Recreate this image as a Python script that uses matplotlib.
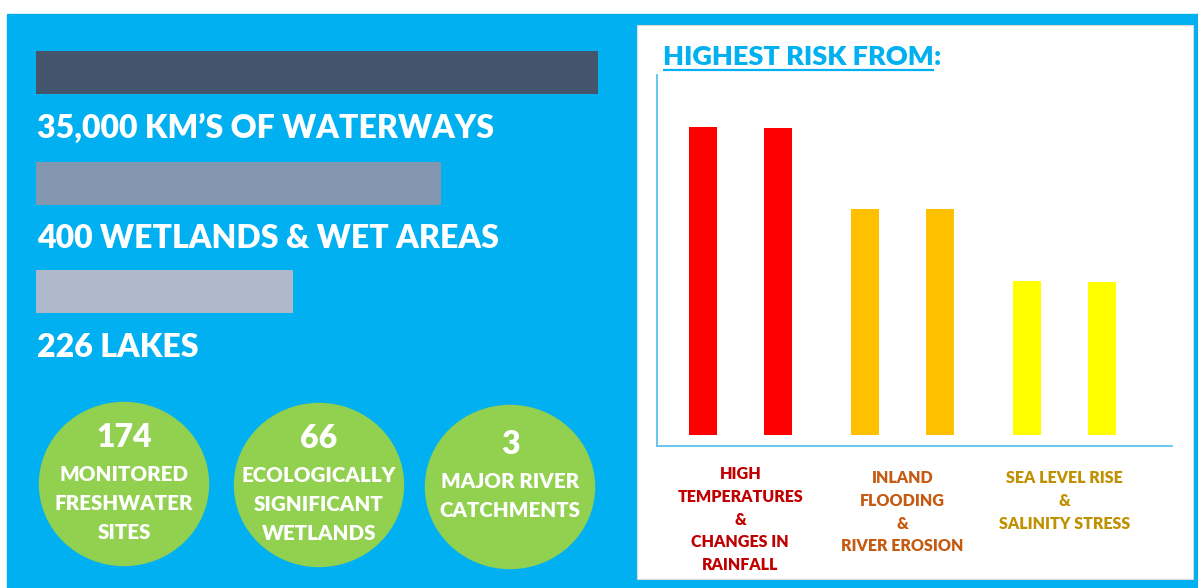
#!/usr/bin/env python3
"""
Freshwater summary panel: headline totals, site counts and the
risk bar chart on the right.
"""

import numpy as np
import matplotlib.pyplot as plt
from matplotlib import font_manager
from matplotlib.patches import Rectangle, Ellipse
from matplotlib.transforms import blended_transform_factory


plt.rcParams["font.family"] = ["Lato", "DejaVu Sans"]
plt.rcParams["font.weight"] = "heavy"

OUTPUT_PNG = "out.png"

# Headline totals (left column)
TOTAL_LABELS = [
    "35,000 KM’S OF WATERWAYS",
    "400 WETLANDS & WET AREAS",
    "226 LAKES",
]
TOTAL_BAR_LENGTHS = [1.0, 0.72, 0.457]
TOTAL_COLORS = ["#44546A", "#8497B0", "#ADB9CA"]

# Site counts (green circles)
CIRCLE_VALUES = ["174", "66", "3"]
CIRCLE_LABELS = [
    ["MONITORED", "FRESHWATER", "SITES"],
    ["ECOLOGICALLY", "SIGNIFICANT", "WETLANDS"],
    ["MAJOR RIVER", "CATCHMENTS"],
]

# Risk chart (right panel)
RISK_CATEGORIES = [
    ["HIGH", "TEMPERATURES", "&", "CHANGES IN", "RAINFALL"],
    ["INLAND", "FLOODING", "&", "RIVER EROSION"],
    ["SEA LEVEL RISE", "&", "SALINITY STRESS"],
]
RISK_SERIES_A = [4.00, 2.94, 2.00]
RISK_SERIES_B = [3.99, 2.94, 1.99]
RISK_BAR_COLORS = ["#FF0000", "#FFC000", "#FFFF00"]
RISK_LABEL_COLORS = ["#C00000", "#C55A11", "#BF9000"]

BLUE = "#00B0F0"
GREEN = "#92D050"
AXIS_BLUE = "#5BC3EE"

FIG_W, FIG_H = 1198, 588

# condensed face for the circle captions, if the system has one
_installed = {f.name for f in font_manager.fontManager.ttflist}
if "Liberation Sans Narrow" in _installed:
    CAPTION_FONT = {"family": "Liberation Sans Narrow", "weight": "bold",
                    "size": 16.5}
else:
    CAPTION_FONT = {"family": "Lato", "weight": "heavy", "size": 14.8}


def px_axes(fig, x0, y0, x1, y1):
    """Axes placed by pixel box (top-left origin)."""
    return fig.add_axes([
        x0 / FIG_W,
        1 - y1 / FIG_H,
        (x1 - x0) / FIG_W,
        (y1 - y0) / FIG_H,
    ])


def draw_left_column(bg):
    bar_left, bar_span, bar_h = 36, 562, 43
    row_centers = [72.5, 183.5, 291]
    text_baselines = [138, 248, 357]

    bg.barh(
        row_centers,
        [v * bar_span for v in TOTAL_BAR_LENGTHS],
        left=bar_left,
        height=bar_h,
        color=TOTAL_COLORS,
        zorder=2,
    )

    for label, y in zip(TOTAL_LABELS, text_baselines):
        bg.text(37, y, label, color="white", fontsize=23,
                ha="left", va="baseline", zorder=3)

    centers = [(124, 484), (319, 485), (510, 487)]
    for (cx, cy), value, lines in zip(centers, CIRCLE_VALUES, CIRCLE_LABELS):
        bg.add_patch(Ellipse((cx, cy), 169, 163, color=GREEN, zorder=2))
        num_y = cy - 37 + 4 * (3 - len(lines))
        bg.text(cx, num_y, value, color="white", fontsize=23,
                ha="center", va="baseline", zorder=3)
        for i, line in enumerate(lines):
            bg.text(cx, num_y + 34 + 29 * i, line, color="white",
                    fontdict=CAPTION_FONT, ha="center", va="baseline",
                    zorder=3)


def draw_title(fig, bg):
    title = bg.text(663, 65, "HIGHEST RISK FROM", color=BLUE, fontsize=19.5,
                    ha="left", va="baseline", zorder=3)
    fig.canvas.draw()
    bb = title.get_window_extent()
    (x0, _), (x1, _) = bg.transData.inverted().transform(
        [[bb.x0, bb.y0], [bb.x1, bb.y1]]
    )
    bg.text(x1, 65, ":", color=BLUE, fontsize=19.5,
            ha="left", va="baseline", zorder=3)
    bg.plot([x0, x1], [70, 70], color=BLUE, linewidth=1.6,
            solid_capstyle="butt", zorder=3)


def draw_risk_chart(fig, bg):
    ax = px_axes(fig, 657, 75, 1172, 446)
    ax.set_facecolor("none")

    x = np.arange(len(RISK_CATEGORIES))
    offset, width = 0.23, 0.173

    ax.bar(x - offset, RISK_SERIES_A, width, color=RISK_BAR_COLORS)
    ax.bar(x + offset, RISK_SERIES_B, width, color=RISK_BAR_COLORS)

    ax.set_xlim(-0.514, 2.665)
    ax.set_ylim(-0.143, 4.675)

    for side in ["top", "right"]:
        ax.spines[side].set_visible(False)
    for side in ["left", "bottom"]:
        ax.spines[side].set_color(AXIS_BLUE)
        ax.spines[side].set_linewidth(1.3)
    ax.set_xticks([])
    ax.set_yticks([])

    # category labels under the axis, one line at a time
    trans = blended_transform_factory(ax.transData, bg.transData)
    for i, (lines, color) in enumerate(zip(RISK_CATEGORIES, RISK_LABEL_COLORS)):
        first = 479 if len(lines) > 4 else 483
        for j, line in enumerate(lines):
            ax.text(i, first + 22.8 * j, line, transform=trans,
                    color=color, fontsize=11.5, ha="center",
                    va="baseline", clip_on=False)


def main():
    fig = plt.figure(figsize=(FIG_W / 100, FIG_H / 100), dpi=100)
    fig.patch.set_facecolor("white")

    bg = fig.add_axes([0, 0, 1, 1])
    bg.set_xlim(0, FIG_W)
    bg.set_ylim(FIG_H, 0)
    bg.axis("off")

    bg.add_patch(Rectangle((7, 14), FIG_W - 7, FIG_H - 14,
                           color=BLUE, zorder=0))
    bg.add_patch(Rectangle((637, 25), 556, 554, facecolor="white",
                           edgecolor="#D9D9D9", linewidth=0.8, zorder=1))

    draw_left_column(bg)
    draw_title(fig, bg)
    draw_risk_chart(fig, bg)

    fig.savefig(OUTPUT_PNG, dpi=100)
    plt.close(fig)


if __name__ == "__main__":
    main()
